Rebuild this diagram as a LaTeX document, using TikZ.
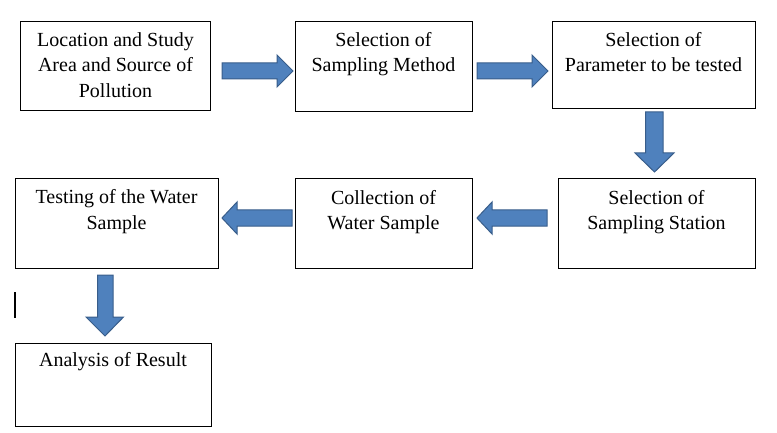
\documentclass[tikz,border=0pt]{standalone}
\usepackage{fontspec}
\setmainfont{Liberation Serif}
\begin{document}
\begin{tikzpicture}[x=1pt,y=-1pt,
  box/.style={draw=black,line width=1pt,fill=white},
  txt/.style={anchor=north,inner sep=0pt,align=center,font=\fontsize{20}{25.5}\selectfont},
  barrow/.style={fill=arrowblue,draw=arrowedge,line width=1pt,line join=miter}]
\definecolor{arrowblue}{HTML}{4F81BD}
\definecolor{arrowedge}{HTML}{385D8A}
\useasboundingbox (0,0) rectangle (777,433);
% boxes
\node[box,minimum width=190pt,minimum height=89pt,inner sep=0pt] (b1) at (115.5,66.5) {};
\node[box,minimum width=177pt,minimum height=90pt,inner sep=0pt] (b2) at (383.5,67) {};
\node[box,minimum width=203pt,minimum height=87pt,inner sep=0pt] (b3) at (653.5,65.5) {};
\node[box,minimum width=197pt,minimum height=89pt,inner sep=0pt] (b4) at (656.5,223.5) {};
\node[box,minimum width=177pt,minimum height=89pt,inner sep=0pt] (b5) at (383.5,223.5) {};
\node[box,minimum width=203pt,minimum height=89pt,inner sep=0pt] (b6) at (116.5,223.5) {};
\node[box,minimum width=196pt,minimum height=83pt,inner sep=0pt] (b7) at (113,384.5) {};
% texts
\node[txt] (t1) at ([yshift=-10.5pt]b1.north) {Location and Study\\Area and Source of\\Pollution};
\node[txt] (t2) at ([yshift=-10.5pt]b2.north) {Selection of\\Sampling Method};
\node[txt] (t3) at ([yshift=-10.5pt]b3.north) {Selection of\\Parameter to be tested};
\node[txt] (t4) at ([yshift=-11.5pt]b4.north) {Selection of\\Sampling Station};
\node[txt] (t5) at ([yshift=-11.5pt]b5.north) {Collection of\\Water Sample};
\node[txt] (t6) at ([yshift=-11pt]b6.north) {Testing of the Water\\Sample};
\node[txt] (t7) at ([yshift=-10pt]b7.north) {Analysis of Result};
% right arrows
\draw[barrow] (222,63) -- (277,63) -- (277,55) -- (293,71) -- (277,87) -- (277,79) -- (222,79) -- cycle;
\draw[barrow] (477,63) -- (532,63) -- (532,55) -- (548,71) -- (532,87) -- (532,79) -- (477,79) -- cycle;
% left arrows
\draw[barrow] (547,210) -- (492,210) -- (492,202) -- (477,218) -- (492,234) -- (492,226) -- (547,226) -- cycle;
\draw[barrow] (292,210) -- (237,210) -- (237,202) -- (222,218) -- (237,234) -- (237,226) -- (292,226) -- cycle;
% down arrows
\draw[barrow] (645.5,112) -- (663,112) -- (663,153) -- (674,153) -- (654.5,172) -- (635,153) -- (645.5,153) -- cycle;
\draw[barrow] (97.5,275) -- (113,275) -- (113,317) -- (123.5,317) -- (105,336) -- (86,317) -- (97.5,317) -- cycle;
% stray cursor mark
\draw[line width=1.6pt] (15,292) -- (15,318);
\end{tikzpicture}
\end{document}
